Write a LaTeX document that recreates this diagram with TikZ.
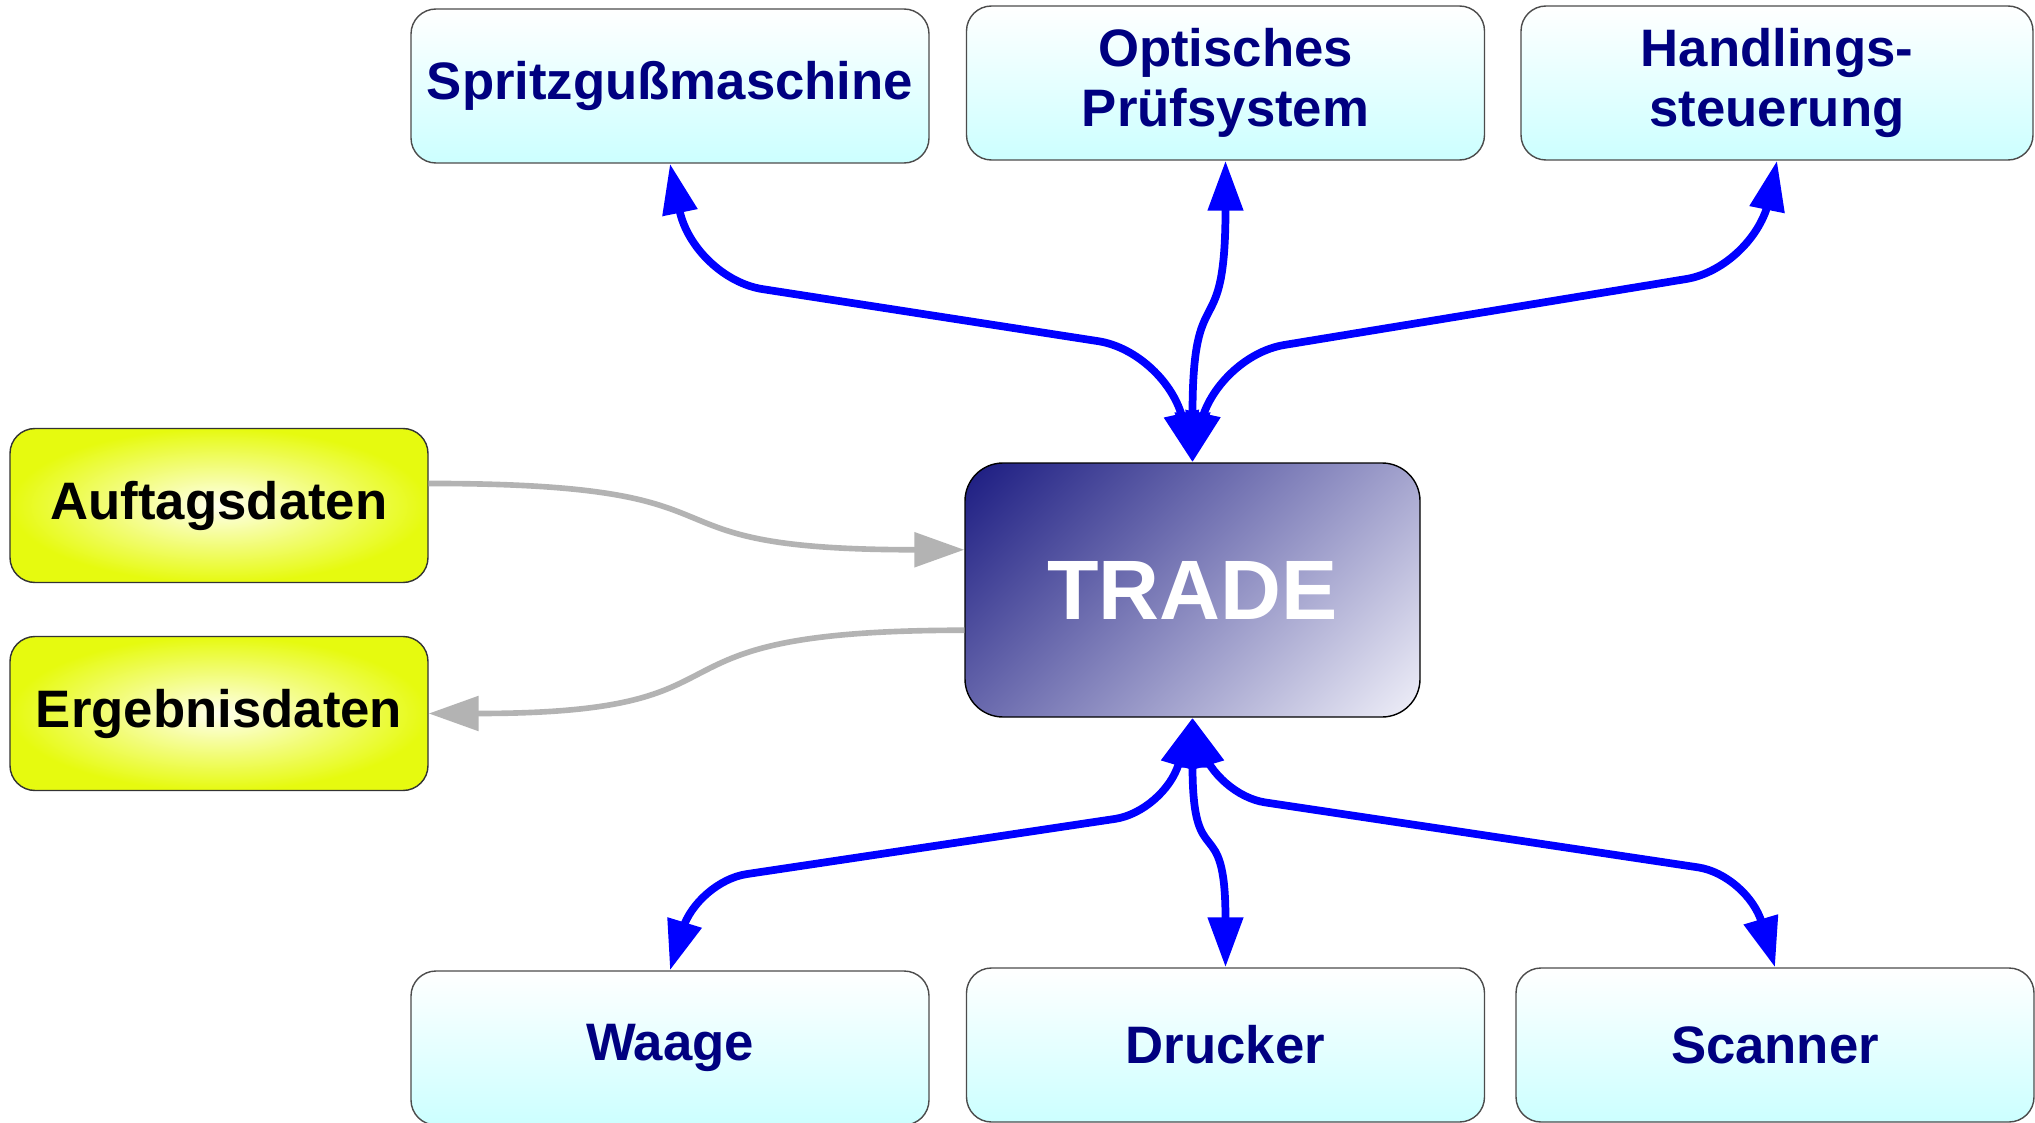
\documentclass[tikz,border=0pt]{standalone}
\usepackage{fontspec}
\setmainfont{Liberation Sans}
\usetikzlibrary{arrows.meta}

\definecolor{boxnavy}{RGB}{0,0,128}
\definecolor{boxcyan}{RGB}{204,255,255}
\definecolor{datayellow}{RGB}{230,250,15}
\definecolor{datapale}{RGB}{255,255,238}
\definecolor{tradedark}{RGB}{25,25,128}
\definecolor{tradelight}{RGB}{242,242,250}
\definecolor{linkblue}{RGB}{0,0,255}
\definecolor{flowgray}{RGB}{179,179,179}

% diagonal fade for the centre box
\pgfdeclareverticalshading{tradefade}{100bp}{color(0bp)=(tradelight); color(14bp)=(tradelight);
  color(86bp)=(tradedark); color(100bp)=(tradedark)}

\tikzset{
  unitbox/.style={draw=black!70, line width=0.4pt, rounded corners=0.25cm,
    minimum width=5.18cm, minimum height=1.54cm, inner sep=0pt, align=center,
    top color=white, bottom color=boxcyan, text=boxnavy,
    font=\fontsize{15}{17}\selectfont\bfseries},
  databox/.style={draw=black!80, line width=0.4pt, rounded corners=0.25cm,
    minimum width=4.18cm, minimum height=1.54cm, inner sep=0pt,
    inner color=datapale, outer color=datayellow, text=black,
    font=\fontsize{15}{17}\selectfont\bfseries},
  tradebox/.style={draw=black, line width=0.4pt, rounded corners=0.38cm,
    minimum width=4.55cm, minimum height=2.54cm, inner sep=0pt,
    shading=tradefade, shading angle=45,
    text=white, font=\fontsize{24}{28}\selectfont\bfseries},
  blueline/.style={<->, draw=linkblue, line width=2.2pt},
  grayline/.style={->, draw=flowgray, line width=1.6pt},
}

\begin{document}
\begin{tikzpicture}[>={Triangle[width=3.4mm,length=5mm]}]
  \path[use as bounding box, fill=white] (0,0) rectangle (20.35,11.22);

  % center
  \node[tradebox] (trade) at (11.925,5.32) {TRADE};

  % machines on top
  \node[unitbox] (spritz) at (6.70,10.36) {Spritzgußmaschine};
  \node[unitbox] (optisch) at (12.255,10.39) {Optisches\\Prüfsystem};
  \node[unitbox, minimum width=5.12cm] (handling) at (17.77,10.39) {Handlings-\\steuerung};

  % devices below
  \node[unitbox] (waage) at (6.70,0.74) {Waage};
  \node[unitbox] (drucker) at (12.255,0.77) {Drucker};
  \node[unitbox] (scanner) at (17.75,0.77) {Scanner};

  % data on the left
  \node[databox] (auftrag) at (2.19,6.165) {Auftagsdaten};
  \node[databox] (ergebnis) at (2.19,4.085) {Ergebnisdaten};

  \draw[blueline, rounded corners=0.7cm] (spritz.south) -- ++(0.234,-1.147) -- ++(4.74,-0.735) -- (trade.north);
  \draw[blueline] (optisch.south) .. controls +(0,-1.9) and +(0,1.9) .. (trade.north);
  \draw[blueline, rounded corners=0.7cm] (handling.south) -- ++(-0.218,-1.07) -- ++(-5.40,-0.886) -- (trade.north);
  \draw[blueline, rounded corners=0.5cm] (trade.south) -- ++(-0.281,-0.938) -- ++(-4.672,-0.70) -- (waage.north);
  \draw[blueline] (trade.south) .. controls +(0,-1.6) and +(0,1.6) .. (drucker.north);
  \draw[blueline, rounded corners=0.5cm] (trade.south) -- ++(0.232,-0.773) -- ++(5.319,-0.798) -- (scanner.north);

  \draw[grayline] (auftrag.6) .. controls +(3.5,0) and +(-3.5,0) .. (trade.170);
  \draw[grayline] (trade.190) .. controls +(-3.5,0) and +(3.5,0) .. (ergebnis.east);
\end{tikzpicture}
\end{document}
